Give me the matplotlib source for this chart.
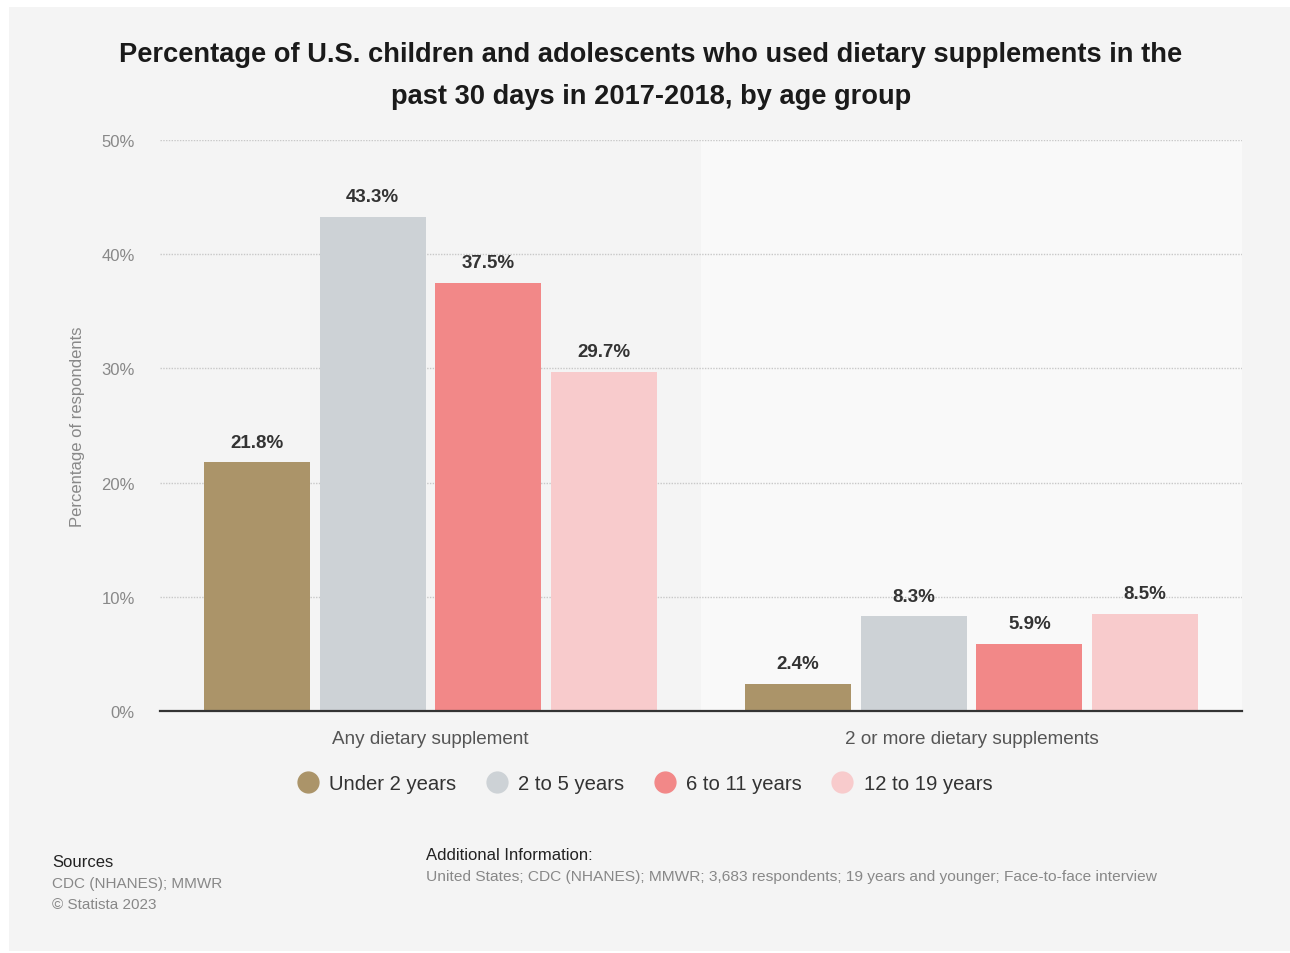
import matplotlib.pyplot as plt
from matplotlib.patches import Rectangle
from matplotlib.lines import Line2D
import numpy as np

plt.rcParams['font.family'] = ['Liberation Sans', 'DejaVu Sans']

categories = ["Any dietary supplement", "2 or more dietary supplements"]
age_groups = ["Under 2 years", "2 to 5 years", "6 to 11 years", "12 to 19 years"]
under_2 = [21.8, 2.4]
age_2_5 = [43.3, 8.3]
age_6_11 = [37.5, 5.9]
age_12_19 = [29.7, 8.5]
colors = ["#ab9469", "#cdd2d6", "#f28888", "#f8cbcc"]

series = [under_2, age_2_5, age_6_11, age_12_19]

fig = plt.figure(figsize=(12.9, 9.54), dpi=100)
fig.patch.set_facecolor("white")
# grey card behind everything
fig.patches.append(Rectangle((9 / 1290, 2 / 954), 1281 / 1290, 944 / 954,
                             transform=fig.transFigure, facecolor="#f4f4f4",
                             edgecolor="none", zorder=-5))

ax = fig.add_axes([0.124, 0.2537, 0.8388, 0.5985])
ax.set_facecolor("none")

x = np.arange(len(categories))
bar_w = 0.196
step = 0.214
for i, (vals, col) in enumerate(zip(series, colors)):
    pos = x + (i - 1.5) * step
    bars = ax.bar(pos, vals, width=bar_w, color=col, zorder=3, label=age_groups[i])
    for b, v in zip(bars, vals):
        ax.text(b.get_x() + b.get_width() / 2, v + 1.0, f"{v}%", ha="center",
                va="bottom", fontsize=13.5, fontweight="bold", color="#333333",
                zorder=4)

# lighter band behind the second category
ax.axvspan(0.5, 1.5, ymin=0, ymax=1, facecolor="#f9f9f9", zorder=0)

ax.set_xlim(-0.5, 1.5)
ax.set_ylim(0, 50)
ax.set_yticks(range(0, 51, 10))
ax.set_yticklabels([f"{t}%" for t in range(0, 51, 10)])
ax.yaxis.grid(True, linestyle=(0, (1, 1)), color="#c8c8c8", linewidth=1, zorder=1)
ax.set_axisbelow(True)
for s in ["top", "right", "left"]:
    ax.spines[s].set_visible(False)
ax.spines["bottom"].set_color("#333333")
ax.spines["bottom"].set_linewidth(1.6)
ax.spines["bottom"].set_zorder(5)
ax.tick_params(axis="y", length=0, pad=18, labelsize=12, labelcolor="#888888")
ax.tick_params(axis="x", length=0, pad=14, labelsize=13.6, labelcolor="#555555")
ax.set_xticks(x)
ax.set_xticklabels(categories)
ax.set_ylabel("Percentage of respondents", fontsize=12, color="#888888", labelpad=12)

fig.text(651 / 1290, 1 - 76 / 954,
         "Percentage of U.S. children and adolescents who used dietary supplements in the\npast 30 days in 2017-2018, by age group",
         ha="center", va="center", fontsize=19.6, fontweight="bold", color="#1a1a1a",
         linespacing=1.75)

handles = [Line2D([0], [0], marker="o", linestyle="none", markersize=15,
                  markerfacecolor=c, markeredgecolor=c) for c in colors]
fig.legend(handles, age_groups, loc="center", bbox_to_anchor=(0.5, 1 - 785 / 954),
           ncol=4, frameon=False, fontsize=14.6, labelcolor="#333333",
           handlelength=1.0, handletextpad=0.55, columnspacing=1.5)

fig.text(52 / 1290, 1 - 863 / 954, "Sources", fontsize=12, color="#222222", va="center")
fig.text(52 / 1290, 1 - 884 / 954, "CDC (NHANES); MMWR", fontsize=11, color="#888888", va="center")
fig.text(52 / 1290, 1 - 905 / 954, "© Statista 2023", fontsize=11, color="#888888", va="center")
fig.text(426 / 1290, 1 - 856 / 954, "Additional Information:", fontsize=12, color="#222222", va="center")
fig.text(426 / 1290, 1 - 877 / 954,
         "United States; CDC (NHANES); MMWR; 3,683 respondents; 19 years and younger; Face-to-face interview",
         fontsize=11.15, color="#888888", va="center")

fig.savefig("out.png", dpi=100)
